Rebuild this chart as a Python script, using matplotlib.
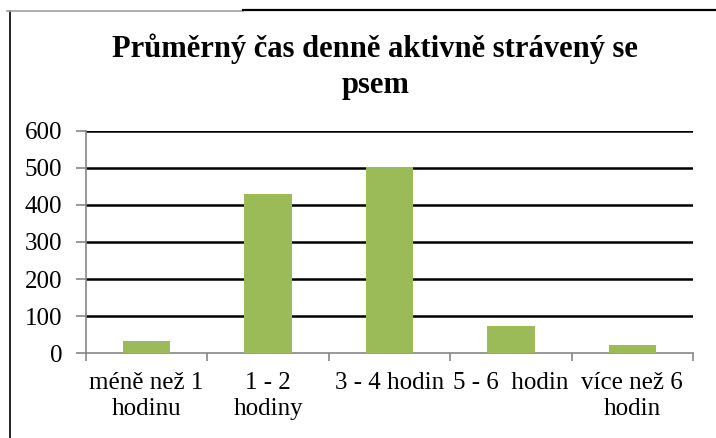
import numpy as np
import matplotlib.pyplot as plt
from matplotlib.lines import Line2D

categories = ['méně než 1\nhodinu', '1 - 2\nhodiny', '3 - 4 hodin', '5 - 6  hodin', 'více než 6\nhodin']
values = [32, 430, 503, 73, 21]
yticks = [0, 100, 200, 300, 400, 500, 600]
title = 'Průměrný čas denně aktivně strávený se\npsem'

plt.rcParams['font.family'] = ['Liberation Serif', 'DejaVu Serif']

fig = plt.figure(figsize=(7.16, 4.38), dpi=100)
ax = fig.add_axes([0.120, 0.194, 0.848, 0.507])

x = np.arange(len(categories))
ax.bar(x, values, width=0.39, color='#9BBB59', zorder=3)

ax.set_xlim(-0.5, len(categories) - 0.5)
ax.set_ylim(0, 600)
ax.set_yticks(yticks)
ax.tick_params(axis='y', labelsize=18, length=7, color='#868686', width=1.2, pad=10)
ax.set_xticks(x)
ax.set_xticklabels(categories, linespacing=1.2)
ax.set_xticks(np.arange(len(categories) + 1) - 0.5, minor=True)
ax.tick_params(axis='x', which='major', length=0, labelsize=18, pad=14)
ax.tick_params(axis='x', which='minor', length=6, color='#868686', width=1.2)

for t in yticks[1:]:
    ax.axhline(t, color='black', lw=1.8, zorder=1)

for s in ['top', 'right']:
    ax.spines[s].set_visible(False)
for s in ['left', 'bottom']:
    ax.spines[s].set_color('#868686')
    ax.spines[s].set_linewidth(1.2)

fig.text(0.524, 0.847, title, ha='center', va='center', fontsize=22,
         fontweight='bold', linespacing=1.3)

# outer frame pieces visible in the screenshot
fig.add_artist(Line2D([10/716, 10/716], [0, 1 - 11/438], color='black', lw=1.2))
fig.add_artist(Line2D([7/716, 243/716], [1 - 11/438, 1 - 11/438], color='#a0a0a0', lw=1.2))
fig.add_artist(Line2D([243/716, 1], [1 - 10/438, 1 - 10/438], color='black', lw=1.6))

fig.savefig('out.png', dpi=100)
